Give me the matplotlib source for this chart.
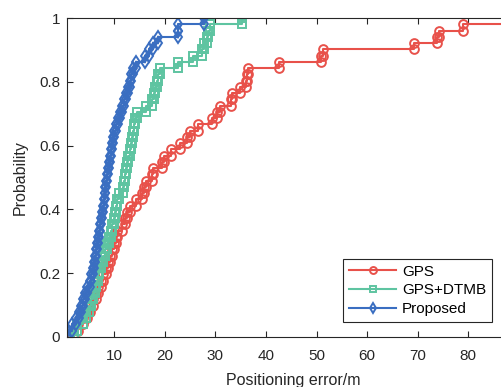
import numpy as np
import matplotlib.pyplot as plt

plt.rcParams['font.family'] = ['Liberation Sans', 'DejaVu Sans']

# sorted positioning errors (m) of each method, 51 test points each
gps_err = [0.9, 2.8, 3.9, 4.6, 5.2, 5.8, 6.3, 6.8, 7.3, 7.8,
           8.3, 8.8, 9.2, 9.6, 9.9, 10.3, 10.6, 11.5, 12.1, 12.6,
           13.2, 14.2, 15.5, 15.8, 16.3, 17.4, 17.7, 19.4, 19.9, 21.3,
           22.9, 24.3, 25.0, 26.6, 29.4, 30.3, 31.0, 33.1, 33.3, 34.9,
           36.1, 36.3, 36.4, 42.6, 50.8, 51.3, 69.3, 73.9, 74.3, 79.0,
           95.0]
dtmb_err = [2.0, 2.7, 3.8, 4.5, 5.0, 5.4, 5.8, 6.1, 6.4, 6.7,
            7.0, 7.3, 7.8, 8.2, 8.6, 9.0, 9.3, 9.6, 9.9, 10.2,
            10.4, 10.6, 10.9, 11.8, 11.9, 12.1, 12.3, 12.6, 12.8, 13.1,
            13.4, 13.6, 13.8, 13.9, 14.1, 14.4, 16.2, 17.5, 17.8, 18.1,
            18.4, 18.7, 19.0, 22.7, 25.6, 27.4, 27.8, 28.3, 28.6, 28.9,
            35.2]
prop_err = [0.7, 1.6, 2.4, 3.0, 3.4, 3.9, 4.3, 4.7, 5.1, 5.4,
            5.7, 6.0, 6.2, 6.4, 6.6, 6.8, 7.0, 7.2, 7.4, 7.6,
            7.8, 8.0, 8.1, 8.2, 8.3, 8.5, 8.7, 8.9, 9.1, 9.3,
            9.5, 9.7, 9.9, 10.3, 10.7, 11.1, 11.6, 12.0, 12.4, 12.8,
            13.1, 13.4, 13.7, 14.2, 16.0, 16.8, 17.6, 18.7, 22.6, 22.7,
            27.7]

labels = ['GPS', 'GPS+DTMB', 'Proposed']
colors = ['#E8514A', '#5EC4A1', '#3A6EC1']
markers = ['o', 's', 'd']


def cdf_steps(err):
    # empirical CDF as a staircase: vertical jump at every sample
    x = np.sort(np.asarray(err))
    n = len(x)
    xs = np.repeat(x, 2)
    ys = np.empty(2 * n)
    ys[0::2] = np.arange(n) / n
    ys[1::2] = np.arange(1, n + 1) / n
    return xs, ys


fig = plt.figure(figsize=(5.01, 3.87), dpi=100)
ax = fig.add_axes([67 / 501, 50 / 387, 451.8 / 501, 319 / 387])

for err, lab, c, m in zip([gps_err, dtmb_err, prop_err], labels, colors, markers):
    xs, ys = cdf_steps(err)
    ax.plot(xs, ys, color=c, lw=1.5, marker=m, ms=6.3, mfc='none',
            mec=c, mew=1.4, label=lab)

ax.set_xlim(0.65, 90)
ax.set_ylim(0, 1)
ax.set_xticks(np.arange(10, 81, 10))
ax.set_yticks(np.arange(0, 1.01, 0.2))
ax.set_yticklabels(['0', '0.2', '0.4', '0.6', '0.8', '1'])
ax.tick_params(direction='in', length=4, width=0.8, colors='#262626',
               labelsize=11, top=True, right=True)
ax.tick_params(axis='x', pad=9)
ax.tick_params(axis='y', pad=5)
for s in ax.spines.values():
    s.set_color('#262626')
    s.set_linewidth(0.8)

ax.set_xlabel('Positioning error/m', fontsize=11.5, color='#262626', labelpad=7)
ax.set_ylabel('Probability', fontsize=11.5, color='#262626', labelpad=8)

leg = ax.legend(loc='lower left', bbox_to_anchor=(343 / 501, 1 - 322 / 387),
                bbox_transform=fig.transFigure, fontsize=11, fancybox=False,
                framealpha=1, edgecolor='#262626', handlelength=3.1,
                borderpad=0.4, labelspacing=0.3, handletextpad=0.35,
                borderaxespad=0)
leg.get_frame().set_linewidth(0.8)
for h in leg.legend_handles:
    h.set_markersize(5)

fig.savefig('out.png', dpi=100)
